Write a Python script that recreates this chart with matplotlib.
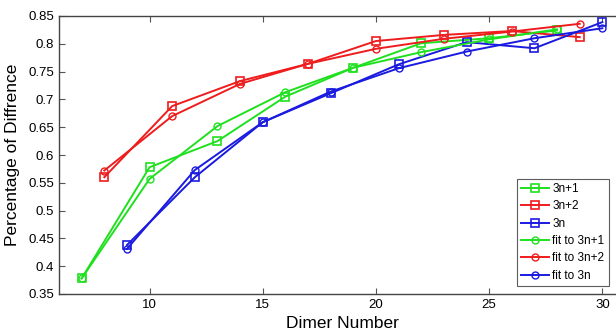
import matplotlib.pyplot as plt

# --- Data ---
x_3n1 = [7, 10, 13, 16, 19, 22, 25, 28]
y_3n1 = [0.378, 0.578, 0.625, 0.705, 0.757, 0.801, 0.810, 0.824]
y_fit_3n1 = [0.378, 0.557, 0.652, 0.713, 0.757, 0.785, 0.808, 0.826]

x_3n2 = [8, 11, 14, 17, 20, 23, 26, 29]
y_3n2 = [0.560, 0.688, 0.733, 0.764, 0.805, 0.816, 0.823, 0.812]
y_fit_3n2 = [0.572, 0.670, 0.728, 0.764, 0.791, 0.809, 0.822, 0.836]

x_3n = [9, 12, 15, 18, 21, 24, 27, 30]
y_3n = [0.438, 0.560, 0.659, 0.711, 0.763, 0.803, 0.792, 0.839]
y_fit_3n = [0.431, 0.573, 0.659, 0.714, 0.756, 0.786, 0.810, 0.828]

labels = ['3n+1', '3n+2', '3n', 'fit to 3n+1', 'fit to 3n+2', 'fit to 3n']

GREEN = '#1fe01f'
RED = '#ee1c1c'
BLUE = '#1a1ae0'

plt.rcParams['font.family'] = ['Liberation Sans', 'DejaVu Sans']

fig = plt.figure(figsize=(6.16, 3.3), dpi=100)
ax = fig.add_axes([59 / 616, 36 / 330, 566 / 616, 278 / 330])

sq = dict(marker='s', markersize=6, markerfacecolor='none', markeredgewidth=1.2, linewidth=1.4)
ci = dict(marker='o', markersize=5, markerfacecolor='none', markeredgewidth=1.0, linewidth=1.4)

ax.plot(x_3n1, y_3n1, color=GREEN, label=labels[0], **sq)
ax.plot(x_3n2, y_3n2, color=RED, label=labels[1], **sq)
ax.plot(x_3n, y_3n, color=BLUE, label=labels[2], **sq)
ax.plot(x_3n1, y_fit_3n1, color=GREEN, label=labels[3], **ci)
ax.plot(x_3n2, y_fit_3n2, color=RED, label=labels[4], **ci)
ax.plot(x_3n, y_fit_3n, color=BLUE, label=labels[5], **ci)

ax.set_xlim(6, 31)
ax.set_ylim(0.35, 0.85)
ax.set_xticks([10, 15, 20, 25, 30])
ax.set_yticks([0.35, 0.4, 0.45, 0.5, 0.55, 0.6, 0.65, 0.7, 0.75, 0.8, 0.85])
ax.set_yticklabels(['0.35', '0.4', '0.45', '0.5', '0.55', '0.6', '0.65', '0.7', '0.75', '0.8', '0.85'])
ax.tick_params(direction='in', top=True, right=True, labelsize=9.5, length=4, color='#555555')
for s in ax.spines.values():
    s.set_color('#444444')
    s.set_linewidth(1.0)

ax.set_xlabel('Dimer Number', fontsize=12.5, labelpad=4)
ax.set_ylabel('Percentage of Diffrence', fontsize=12.5, labelpad=6)

leg = ax.legend(loc='upper left', bbox_to_anchor=(517 / 616, 1 - 179 / 330),
                bbox_transform=fig.transFigure, fontsize=8.5,
                frameon=True, fancybox=False, edgecolor='#333333',
                handlelength=2.4, handletextpad=0.25, labelspacing=0.45,
                borderpad=0.35, borderaxespad=0)
leg.get_frame().set_linewidth(0.8)

fig.savefig('out.png', dpi=100)
